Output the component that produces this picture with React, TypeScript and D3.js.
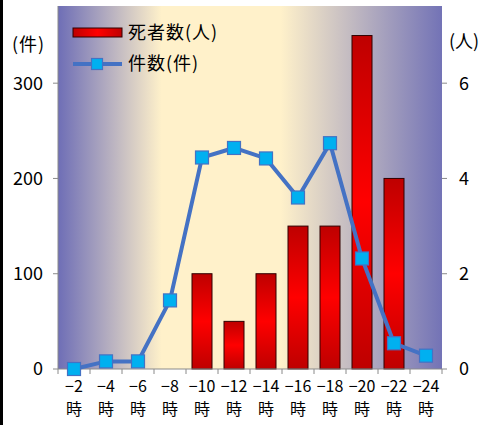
import React, { useEffect, useRef } from "react";
import * as d3 from "d3";

const hours = ["−2", "−4", "−6", "−8", "−10", "−12", "−14", "−16", "−18", "−20", "−22", "−24"];
const cases = [0, 8, 8, 72, 222, 232, 221, 180, 237, 116, 27, 14];
const deaths = [0, 0, 0, 0, 2, 1, 2, 3, 3, 7, 4, 0];
const leftTicks = [0, 100, 200, 300];
const rightTicks = [0, 2, 4, 6];

const FONT = "'Noto Sans CJK JP', 'Noto Sans', sans-serif";

export default function App() {
  const ref = useRef<SVGSVGElement | null>(null);

  useEffect(() => {
    const width = 481, height = 425;
    const margin = { top: 6, right: 39, bottom: 56, left: 58 };
    const w = width - margin.left - margin.right;
    const h = height - margin.top - margin.bottom;

    const svg = d3.select(ref.current);
    svg.selectAll("*").remove();
    svg.attr("width", width).attr("height", height).style("font-family", FONT);

    svg.append("rect").attr("width", width).attr("height", height).attr("fill", "#fff");
    svg.append("rect").attr("x", 0).attr("y", 0).attr("width", 3).attr("height", height).attr("fill", "#000");

    const defs = svg.append("defs");
    const bg = defs.append("linearGradient").attr("id", "bgGrad").attr("x1", "0").attr("x2", "1").attr("y1", "0").attr("y2", "0");
    bg.append("stop").attr("offset", "0%").attr("stop-color", "#6E6EB6");
    bg.append("stop").attr("offset", "27%").attr("stop-color", "#FFF1CA");
    bg.append("stop").attr("offset", "58%").attr("stop-color", "#FFF1CA");
    bg.append("stop").attr("offset", "100%").attr("stop-color", "#7373B6");

    const barGrad = defs.append("linearGradient").attr("id", "barGrad").attr("x1", "0").attr("x2", "0").attr("y1", "0").attr("y2", "1");
    barGrad.append("stop").attr("offset", "0%").attr("stop-color", "#BE0000");
    barGrad.append("stop").attr("offset", "50%").attr("stop-color", "#FF0000");
    barGrad.append("stop").attr("offset", "100%").attr("stop-color", "#BE0000");

    const legGrad = defs.append("linearGradient").attr("id", "legGrad").attr("x1", "0").attr("x2", "1").attr("y1", "0").attr("y2", "0");
    legGrad.append("stop").attr("offset", "0%").attr("stop-color", "#BE0000");
    legGrad.append("stop").attr("offset", "50%").attr("stop-color", "#FF0000");
    legGrad.append("stop").attr("offset", "100%").attr("stop-color", "#BE0000");

    const g = svg.append("g").attr("transform", `translate(${margin.left},${margin.top})`);

    const x = d3.scaleBand().domain(hours).range([0, w]).paddingInner(0.375).paddingOuter(0.1875);
    const xc = (d: string) => (x(d) as number) + x.bandwidth() / 2;
    const yL = d3.scaleLinear().domain([0, 381]).range([h, 0]);
    const yR = d3.scaleLinear().domain([0, 7.62]).range([h, 0]);

    g.append("rect").attr("width", w).attr("height", h).attr("fill", "url(#bgGrad)");

    // bars (deaths, right axis)
    g.selectAll("rect.bar").data(deaths.map((v, i) => ({ k: hours[i], v })).filter(d => d.v > 0)).enter().append("rect")
      .attr("class", "bar")
      .attr("x", d => x(d.k) as number)
      .attr("y", d => yR(d.v))
      .attr("width", x.bandwidth())
      .attr("height", d => h - yR(d.v))
      .attr("fill", "url(#barGrad)")
      .attr("stroke", "#300000").attr("stroke-width", 1);

    // axes
    const axisColor = "#8a8a8a";
    g.append("line").attr("x1", 0).attr("x2", 0).attr("y1", 0).attr("y2", h).attr("stroke", axisColor);
    g.append("line").attr("x1", 0).attr("x2", w).attr("y1", h).attr("y2", h).attr("stroke", axisColor);
    const step = w / hours.length;
    d3.range(hours.length + 1).forEach(i => {
      g.append("line").attr("x1", i * step).attr("x2", i * step).attr("y1", h).attr("y2", h + 5).attr("stroke", axisColor);
    });
    leftTicks.forEach(t => {
      g.append("line").attr("x1", -5).attr("x2", 0).attr("y1", yL(t)).attr("y2", yL(t)).attr("stroke", axisColor);
      g.append("text").attr("x", -15).attr("y", yL(t)).attr("dy", "0.36em").attr("text-anchor", "end")
        .attr("font-size", 18).attr("fill", "#000").text(t);
    });
    rightTicks.forEach(t => {
      g.append("line").attr("x1", w).attr("x2", w + 5).attr("y1", yR(t)).attr("y2", yR(t)).attr("stroke", axisColor);
      g.append("text").attr("x", w + 22).attr("y", yR(t)).attr("dy", "0.36em").attr("text-anchor", "middle")
        .attr("font-size", 18).attr("fill", "#000").text(t);
    });
    hours.forEach(k => {
      g.append("text").attr("x", xc(k)).attr("y", h + 23).attr("text-anchor", "middle").attr("font-size", 16).attr("fill", "#000").text(k);
      g.append("text").attr("x", xc(k)).attr("y", h + 46).attr("text-anchor", "middle").attr("font-size", 16).attr("fill", "#000").text("時");
    });

    // line (cases, left axis)
    const line = d3.line<number>().x((_, i) => xc(hours[i])).y(d => yL(d));
    g.append("path").datum(cases).attr("d", line).attr("fill", "none").attr("stroke", "#4472C4").attr("stroke-width", 4);
    const ms = 13;
    g.selectAll("rect.mk").data(cases).enter().append("rect")
      .attr("class", "mk")
      .attr("x", (_, i) => xc(hours[i]) - ms / 2)
      .attr("y", d => yL(d) - ms / 2)
      .attr("width", ms).attr("height", ms)
      .attr("fill", "#00B0F0").attr("stroke", "#4472C4").attr("stroke-width", 1.2);

    // unit labels
    svg.append("text").attr("x", 12).attr("y", 45).attr("dy", "0.36em").attr("font-size", 18).attr("letter-spacing", 1).attr("fill", "#000").text("(件)");
    svg.append("text").attr("x", 449).attr("y", 42).attr("dy", "0.36em").attr("font-size", 18).attr("fill", "#000").text("(人)");

    // legend
    const lg = svg.append("g");
    lg.append("rect").attr("x", 73).attr("y", 28).attr("width", 49).attr("height", 9).attr("fill", "url(#legGrad)").attr("stroke", "#300000");
    lg.append("text").attr("x", 128).attr("y", 33).attr("dy", "0.36em").attr("font-size", 18).attr("letter-spacing", 1).attr("fill", "#000").text("死者数(人)");
    lg.append("line").attr("x1", 73).attr("x2", 122).attr("y1", 64).attr("y2", 64).attr("stroke", "#4472C4").attr("stroke-width", 4);
    lg.append("rect").attr("x", 97 - 5.5).attr("y", 64 - 5.5).attr("width", 11).attr("height", 11)
      .attr("fill", "#00B0F0").attr("stroke", "#4472C4").attr("stroke-width", 1.2);
    lg.append("text").attr("x", 128).attr("y", 64).attr("dy", "0.36em").attr("font-size", 18).attr("letter-spacing", 1).attr("fill", "#000").text("件数(件)");
  }, []);

  return (
    <div style={{ position: "fixed", left: 0, top: 0, width: 481, height: 425 }}>
      <svg ref={ref} style={{ display: "block" }} />
    </div>
  );
}
